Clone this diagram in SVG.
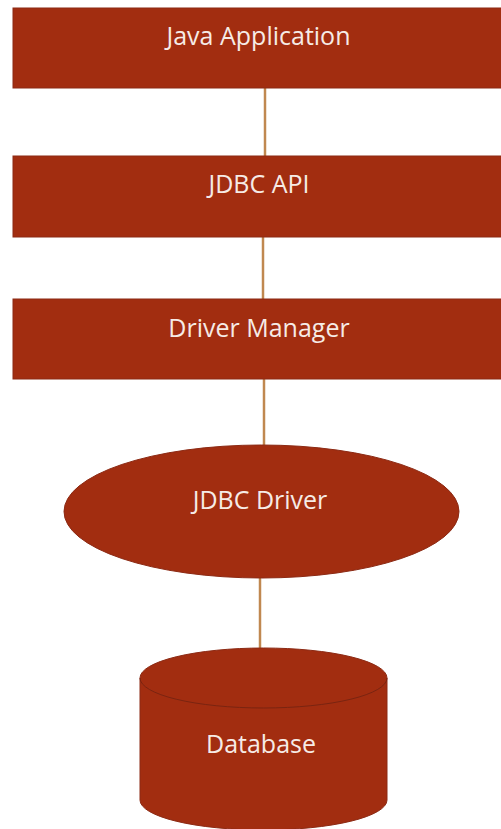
<svg xmlns="http://www.w3.org/2000/svg" width="501" height="829" viewBox="0 0 501 829">
<style>
.n{fill:#a22d10;stroke:#8c2a14;stroke-width:1}
.t{font-family:"Open Sans","Liberation Sans",sans-serif;font-size:25px;font-weight:500;fill:#f6ebe6;text-anchor:middle}
.c{stroke:#c08850;stroke-width:2.5;fill:none}
</style>
<rect width="501" height="829" fill="#ffffff"/>
<g id="connectors">
<line class="c" x1="265" y1="88" x2="265" y2="156"/>
<line class="c" x1="263" y1="237" x2="263" y2="299"/>
<line class="c" x1="264" y1="379" x2="264" y2="445"/>
<line class="c" x1="260" y1="578" x2="260" y2="649"/>
</g>
<g id="java-application">
<rect class="n" x="13" y="8" width="495" height="80"/>
<text class="t" x="258.5" y="45">Java Application</text>
</g>
<g id="jdbc-api">
<rect class="n" x="13" y="156" width="495" height="81"/>
<text class="t" x="259" y="193">JDBC API</text>
</g>
<g id="driver-manager">
<rect class="n" x="13" y="299" width="495" height="80"/>
<text class="t" x="259" y="337">Driver Manager</text>
</g>
<g id="jdbc-driver">
<ellipse class="n" cx="261.5" cy="511.5" rx="197.5" ry="66.5"/>
<text class="t" x="260" y="509">JDBC Driver</text>
</g>
<g id="database">
<path class="n" d="M140,678 L140,800 A123.5,30 0 0 0 387,800 L387,678 A123.5,30 0 0 0 140,678 Z"/>
<path d="M140,678 A123.5,30 0 0 0 387,678" fill="none" stroke="#7a2410" stroke-width="1"/>
<text class="t" x="261" y="753">Database</text>
</g>
</svg>
